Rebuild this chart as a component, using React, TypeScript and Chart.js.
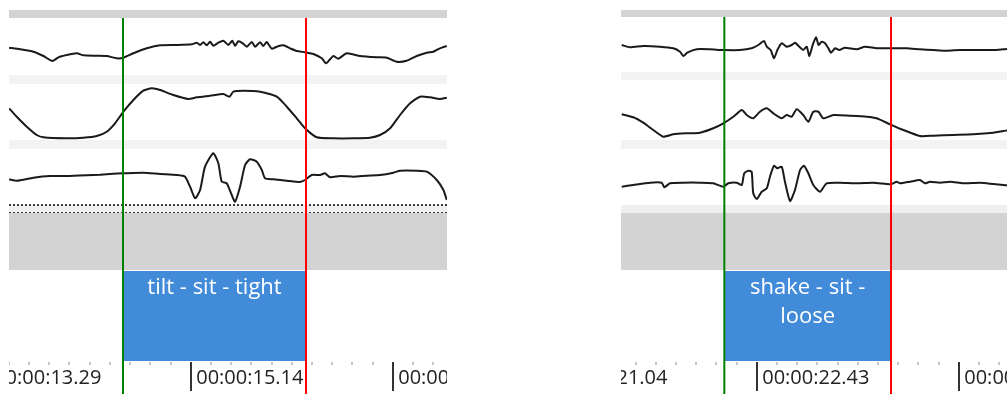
import React, { useEffect, useRef } from 'react';
import { Chart, registerables } from 'chart.js';

Chart.register(...registerables);

// ---------- Left panel data (time in seconds, value = signal amplitude) ----------
const LEFT_TRACK1: [number, number][] = [
  [13.477, -1.2], [13.577, -2.8], [13.699, -5.2], [13.791, -9.5], [13.873, -14.5], [13.928, -10.8],
  [14.005, -8.5], [14.097, -6.8], [14.157, -8.8], [14.280, -9.2], [14.371, -9.5], [14.463, -11.8],
  [14.524, -11.2], [14.615, -6.8], [14.738, -1.8], [14.860, 1.2], [15.013, 1.5], [15.150, 2.2],
  [15.195, 3.8], [15.226, 1.5], [15.256, 4.2], [15.287, 1.2], [15.317, 4.8], [15.347, 0.8],
  [15.393, 3.8], [15.439, 5.8], [15.485, 1.5], [15.521, 5.8], [15.546, 0.8], [15.576, 5.2],
  [15.617, 3.2], [15.653, -0.2], [15.699, 4.5], [15.729, -0.2], [15.775, 4.2], [15.805, 0.5],
  [15.836, 4.5], [15.882, -2.2], [15.928, -0.2], [15.988, 1.2], [16.050, -1.8], [16.111, -4.5],
  [16.187, -5.8], [16.263, -7.5], [16.340, -11.8], [16.379, -16.8], [16.416, -12.8], [16.446, -9.5],
  [16.492, -12.2], [16.569, -6.8], [16.691, -9.5], [16.844, -10.8], [16.935, -11.2], [17.027, -15.2],
  [17.118, -14.2], [17.210, -9.5], [17.302, -6.2], [17.362, -5.2], [17.423, -1.8], [17.485, 0.5],
];
const LEFT_TRACK2: [number, number][] = [
  [13.477, 3.7], [13.547, -4.7], [13.639, -14.7], [13.730, -23], [13.791, -25.3], [14.005, -26.3],
  [14.157, -25.7], [14.280, -24], [14.371, -19.7], [14.447, -11.3], [14.524, 0.3], [14.615, 12],
  [14.706, 21.3], [14.783, 23.7], [14.860, 22], [14.981, 17], [15.118, 13], [15.195, 14.7],
  [15.317, 16.3], [15.439, 18], [15.494, 15.3], [15.531, 20.3], [15.622, 21.3], [15.775, 20.3],
  [15.928, 15.3], [16.020, 5.3], [16.111, -6.3], [16.187, -16.3], [16.294, -25.3], [16.446, -26.3],
  [16.630, -26.3], [16.782, -25.7], [16.874, -23], [16.966, -16.3], [17.057, -3], [17.149, 8.7],
  [17.240, 15.3], [17.332, 14.7], [17.423, 13], [17.485, 14.3],
];
const LEFT_TRACK3: [number, number][] = [
  [13.477, -2.3], [13.547, -3.7], [13.699, -0.7], [13.852, 1], [14.005, 1], [14.188, 1.7],
  [14.310, 2.3], [14.432, 3.3], [14.524, 3.7], [14.706, 4.3], [14.860, 3], [15.013, 2],
  [15.088, 0.3], [15.134, -9.7], [15.180, -21.3], [15.226, -13], [15.271, 10.3], [15.347, 23.7],
  [15.393, 13.7], [15.424, -4.7], [15.470, -6.3], [15.516, -18], [15.546, -24.7], [15.592, -9.7],
  [15.638, 12], [15.684, 17.7], [15.745, 15.3], [15.791, 7], [15.821, -1.3], [15.897, -2.3],
  [16.020, -3.7], [16.141, -5], [16.187, -3], [16.249, 2], [16.325, 2], [16.370, 3.7],
  [16.416, -0.3], [16.508, 1], [16.630, 0.3], [16.752, 1.3], [16.874, 2], [16.996, 4.3],
  [17.057, 6.3], [17.210, 6.3], [17.302, 5.3], [17.393, -3], [17.454, -13], [17.485, -23],
];
const LEFT_RANGE: [number, number] = [13.476, 17.487];
const LEFT_MAJOR_TICKS = [13.29, 15.14, 16.99];
const LEFT_TICK_LABELS = ['00:00:13.29', '00:00:15.14', '00:00:16.99'];
const LEFT_SEGMENT = { start: 14.52, end: 16.196, label: 'tilt - sit - tight' };

// ---------- Right panel data ----------
const RIGHT_TRACK1: [number, number][] = [
  [21.501, -0.5], [21.558, -2.8], [21.649, -1.5], [21.764, -2.2], [21.856, -3.8], [21.902, -7.2],
  [21.925, -11.5], [21.952, -8.2], [22.017, -4.8], [22.108, -4.8], [22.2, -5.5], [22.315, -5.5],
  [22.395, -3.8], [22.441, -0.5], [22.48, 3.5], [22.499, -2.2], [22.526, -5.5], [22.549, -13.8],
  [22.572, -5.5], [22.602, 1.2], [22.636, -2.2], [22.671, -0.5], [22.693, 1.8], [22.723, -2.2],
  [22.75, -5.5], [22.774, -2.2], [22.792, -11.5], [22.815, -0.5], [22.838, 7.2], [22.856, -0.5],
  [22.877, 2.8], [22.9, 1.2], [22.923, -3.8], [22.941, -8.2], [22.969, -3.8], [22.998, -5.5],
  [23.037, -3.2], [23.118, -4.8], [23.175, -2.2], [23.255, -3.8], [23.347, -3.8], [23.462, -3.8],
  [23.553, -4.8], [23.645, -5.5], [23.737, -6.2], [23.829, -5.5], [23.944, -5.5], [24.058, -5.5],
  [24.127, -4.8], [24.152, -4.5],
];
const RIGHT_TRACK2: [number, number][] = [
  [21.501, -4.3], [21.581, -7.3], [21.649, -12.7], [21.718, -20], [21.787, -26.7], [21.856, -24.3],
  [21.948, -23.3], [22.04, -22.7], [22.131, -18.3], [22.2, -13.3], [22.269, -6.7], [22.327, 0],
  [22.361, -5], [22.406, -8.3], [22.452, -1.7], [22.499, 1.7], [22.544, -3.3], [22.602, -8.3],
  [22.636, -5], [22.671, -6.7], [22.705, 0.7], [22.75, -5], [22.785, -11.7], [22.819, -1.7],
  [22.854, -1.7], [22.888, -8.3], [22.957, -5], [23.072, -5.7], [23.187, -6.7], [23.255, -8.3],
  [23.347, -14.3], [23.439, -20], [23.553, -26], [23.645, -25.7], [23.783, -25], [23.92, -24.3],
  [24.058, -22.7], [24.127, -21], [24.152, -20.5],
];
const RIGHT_TRACK3: [number, number][] = [
  [21.501, -9.7], [21.581, -8], [21.696, -5.7], [21.776, -5.7], [21.794, -10.3], [21.833, -6.3],
  [21.925, -5.7], [22.04, -5.7], [22.131, -6.3], [22.2, -9.7], [22.234, -6.3], [22.292, -5.7],
  [22.327, -8], [22.344, 3.7], [22.372, 6.3], [22.395, 5.3], [22.406, -16.3], [22.43, -22],
  [22.464, -14.7], [22.499, -11.3], [22.521, 0.3], [22.549, 11.3], [22.572, 8.7], [22.602, 10.3],
  [22.624, -4.7], [22.659, -24], [22.693, -13], [22.728, 7], [22.755, 11.3], [22.785, 3.7],
  [22.819, -8], [22.865, -14.7], [22.911, -6.3], [23.003, -5.7], [23.118, -6.3], [23.232, -5.7],
  [23.324, -7], [23.359, -7], [23.393, -4.7], [23.416, -6.3], [23.485, -4.7], [23.553, -3],
  [23.588, -6.3], [23.622, -4.7], [23.691, -5.7], [23.76, -4.7], [23.851, -6.3], [23.966, -5.7],
  [24.058, -7], [24.127, -8], [24.152, -8.3],
];
const RIGHT_RANGE: [number, number] = [21.496, 24.152];
const RIGHT_MAJOR_TICKS = [21.04, 22.43, 23.82];
const RIGHT_TICK_LABELS = ['00:00:21.04', '00:00:22.43', '00:00:23.82'];
const RIGHT_SEGMENT = { start: 22.207, end: 23.354, label: 'shake - sit - loose' };

// ---------- Layout (row heights / fills) ----------
type Row = { id: string; h: number; fill?: string; track?: boolean; dotted?: boolean };
const LEFT_ROWS: Row[] = [
  { id: 'bar', h: 8, fill: '#d3d3d3' },
  { id: 't1', h: 57, track: true },
  { id: 'g1', h: 9, fill: '#f3f3f3' },
  { id: 't2', h: 56, track: true },
  { id: 'g2', h: 9, fill: '#f3f3f3' },
  { id: 't3', h: 56, track: true },
  { id: 'g3', h: 8, fill: '#f0f0f0', dotted: true },
  { id: 'blk', h: 57, fill: '#d3d3d3' },
  { id: 'lab', h: 91 },
];
const RIGHT_ROWS: Row[] = [
  { id: 'bar', h: 7, fill: '#d3d3d3' },
  { id: 't1', h: 55, track: true },
  { id: 'g1', h: 8, fill: '#f3f3f3' },
  { id: 't2', h: 60, track: true },
  { id: 'g2', h: 9, fill: '#f3f3f3' },
  { id: 't3', h: 56, track: true },
  { id: 'g3', h: 8, fill: '#efefef' },
  { id: 'blk', h: 57, fill: '#d3d3d3' },
  { id: 'lab', h: 91 },
];

type Spec = {
  rows: Row[];
  series: { row: string; points: [number, number][] }[];
  range: [number, number];
  majors: number[];
  labels: string[];
  segment: { start: number; end: number; label: string };
};

const LEFT_SPEC: Spec = {
  rows: LEFT_ROWS,
  series: [
    { row: 't1', points: LEFT_TRACK1 },
    { row: 't2', points: LEFT_TRACK2 },
    { row: 't3', points: LEFT_TRACK3 },
  ],
  range: LEFT_RANGE,
  majors: LEFT_MAJOR_TICKS,
  labels: LEFT_TICK_LABELS,
  segment: LEFT_SEGMENT,
};
const RIGHT_SPEC: Spec = {
  rows: RIGHT_ROWS,
  series: [
    { row: 't1', points: RIGHT_TRACK1 },
    { row: 't2', points: RIGHT_TRACK2 },
    { row: 't3', points: RIGHT_TRACK3 },
  ],
  range: RIGHT_RANGE,
  majors: RIGHT_MAJOR_TICKS,
  labels: RIGHT_TICK_LABELS,
  segment: RIGHT_SEGMENT,
};

const FONT = '"Open Sans", "Noto Sans", sans-serif';

function wrapText(ctx: CanvasRenderingContext2D, text: string, maxW: number): string[] {
  const words = text.split(' ');
  const lines: string[] = [];
  let cur = '';
  for (const w of words) {
    const test = cur ? cur + ' ' + w : w;
    if (ctx.measureText(test).width > maxW && cur) {
      lines.push(cur);
      cur = w;
    } else cur = test;
  }
  if (cur) lines.push(cur);
  return lines;
}

function makePlugin(spec: Spec) {
  return {
    id: 'panelDecor',
    beforeDatasetsDraw(chart: any) {
      const ctx: CanvasRenderingContext2D = chart.ctx;
      const area = chart.chartArea;
      ctx.save();
      for (const row of spec.rows) {
        const s = chart.scales[row.id];
        if (row.fill) {
          ctx.fillStyle = row.fill;
          ctx.fillRect(area.left, s.top, area.right - area.left, s.bottom - s.top);
        }
        if (row.dotted) {
          ctx.strokeStyle = '#3a3a3a';
          ctx.lineWidth = 2;
          ctx.setLineDash([2, 2]);
          for (const y of [s.top, s.bottom]) {
            ctx.beginPath();
            ctx.moveTo(area.left, y);
            ctx.lineTo(area.right, y);
            ctx.stroke();
          }
          ctx.setLineDash([]);
        }
      }
      // annotation segment
      const xs = chart.scales.x;
      const lab = chart.scales.lab;
      const seg = spec.segment;
      const x0 = xs.getPixelForValue(seg.start);
      const x1 = xs.getPixelForValue(seg.end);
      ctx.fillStyle = '#428bd9';
      ctx.fillRect(x0, lab.top + 1, x1 - x0, lab.bottom - lab.top - 1);
      ctx.font = `22px ${FONT}`;
      ctx.fillStyle = '#ffffff';
      ctx.textAlign = 'center';
      ctx.textBaseline = 'middle';
      const lines = wrapText(ctx, seg.label, x1 - x0 - 20);
      lines.forEach((ln, i) => {
        ctx.fillText(ln, (x0 + x1) / 2, lab.top + 18 + i * 29);
      });
      ctx.restore();
    },
    afterDraw(chart: any) {
      const ctx: CanvasRenderingContext2D = chart.ctx;
      const area = chart.chartArea;
      const xs = chart.scales.x;
      ctx.save();
      // time axis ticks
      const step = (spec.majors[1] - spec.majors[0]) / 10;
      const axisTop = area.bottom + 1;
      for (let k = -12; k <= 32; k++) {
        const t = spec.majors[0] + k * step;
        const px = Math.round(xs.getPixelForValue(t));
        if (px < -40 || px > chart.width + 40) continue;
        if (k % 10 === 0) {
          ctx.fillStyle = '#333333';
          ctx.fillRect(px - 1, axisTop, 2, 29);
        } else {
          ctx.fillStyle = '#c4c4c4';
          ctx.fillRect(px - 1, axisTop, 2, 3);
        }
      }
      ctx.font = `20px ${FONT}`;
      ctx.fillStyle = '#222222';
      ctx.textAlign = 'left';
      ctx.textBaseline = 'middle';
      spec.majors.forEach((t, i) => {
        const px = xs.getPixelForValue(t);
        ctx.fillText(spec.labels[i], px + 5.5, axisTop + 16);
      });
      // start / end markers
      const t1 = chart.scales.t1;
      const marks: [number, string][] = [
        [spec.segment.start, '#008000'],
        [spec.segment.end, '#ff0000'],
      ];
      for (const [t, c] of marks) {
        const px = xs.getPixelForValue(t);
        ctx.fillStyle = c;
        ctx.fillRect(px - 1, t1.top, 2, chart.height - t1.top);
      }
      ctx.restore();
    },
  };
}

function buildConfig(spec: Spec): any {
  const scales: any = {
    x: { type: 'linear', display: false, min: spec.range[0], max: spec.range[1] },
  };
  spec.rows.forEach((row, i) => {
    scales[row.id] = {
      type: 'linear',
      display: false,
      position: 'right',
      stack: 'rows',
      stackWeight: row.h,
      weight: i,
      min: row.track ? -row.h / 2 : 0,
      max: row.track ? row.h / 2 : 1,
    };
  });
  return {
    type: 'line',
    data: {
      datasets: spec.series.map((s) => ({
        data: s.points.map(([x, y]) => ({ x, y })),
        yAxisID: s.row,
        borderColor: '#1a1a1a',
        borderWidth: 2,
        pointRadius: 0,
        tension: 0.2,
        fill: false,
      })),
    },
    options: {
      animation: false,
      responsive: false,
      maintainAspectRatio: false,
      layout: { padding: { left: 0, right: 0, top: 0, bottom: 33 } },
      plugins: { legend: { display: false }, tooltip: { enabled: false } },
      events: [],
      scales,
    },
    plugins: [makePlugin(spec)],
  };
}

function Panel({ left, width, spec }: { left: number; width: number; spec: Spec }) {
  const ref = useRef<HTMLCanvasElement>(null);
  useEffect(() => {
    const chart = new Chart(ref.current as HTMLCanvasElement, buildConfig(spec));
    return () => chart.destroy();
  }, [spec]);
  return (
    <canvas
      ref={ref}
      width={width}
      height={384}
      style={{ position: 'absolute', left, top: 10, width, height: 384 }}
    />
  );
}

export default function App() {
  return (
    <div style={{ position: 'absolute', left: 0, top: 0, width: 1007, height: 394, background: '#ffffff', overflow: 'hidden' }}>
      <Panel left={9} width={438} spec={LEFT_SPEC} />
      <Panel left={621} width={386} spec={RIGHT_SPEC} />
    </div>
  );
}
